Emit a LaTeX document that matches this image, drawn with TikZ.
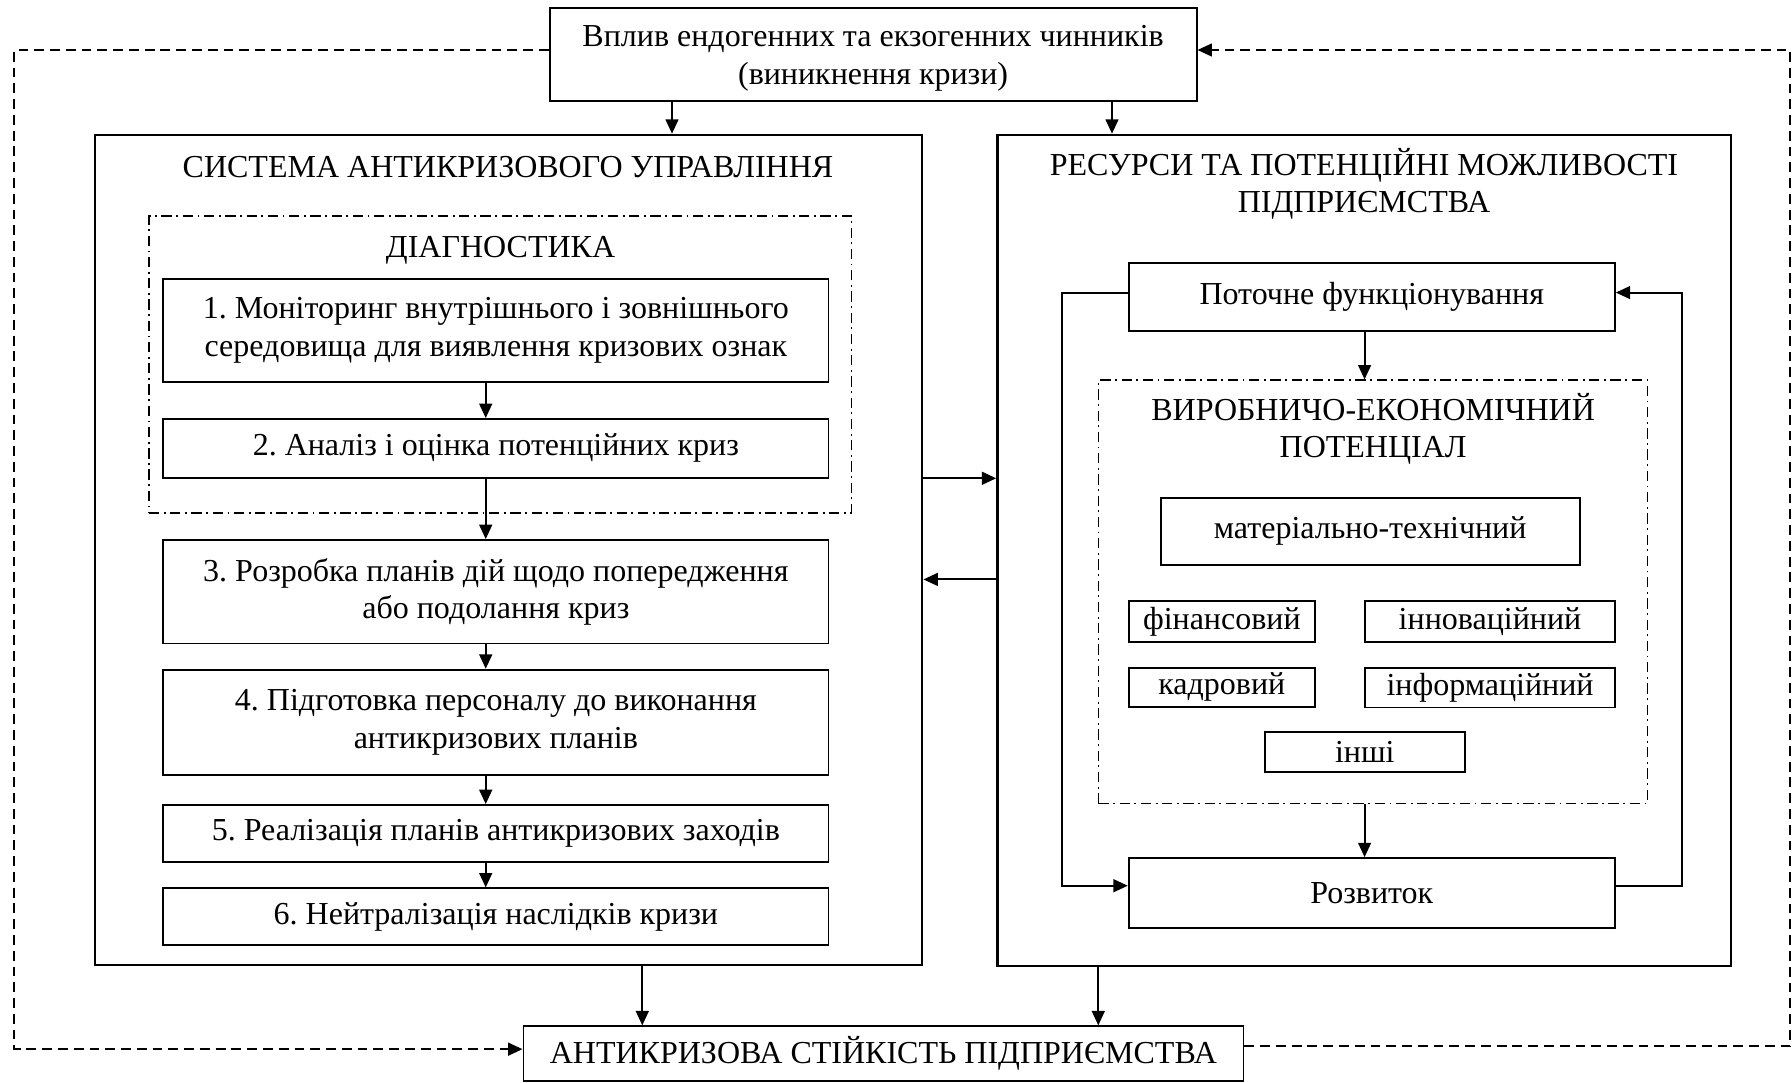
\documentclass[tikz,border=0pt]{standalone}
\usepackage{fontspec}
\setmainfont{Liberation Serif}
\usetikzlibrary{arrows.meta}
\frenchspacing
\newcommand{\myfs}{\fontsize{14pt}{16.3pt}\selectfont}
% name, x1, y1, x2, y2, text ; optional style
\newcommand{\mybox}[7][bx]{%
  \node[#1, minimum width={(#5-(#3))*0.5pt}, minimum height={(#6-(#4))*0.5pt}]
    (#2) at ({(#3+#5)/2},{(#4+#6)/2}) {#7};}
\begin{document}
\begin{tikzpicture}[x=0.5pt,y=-0.5pt,
  bx/.style={draw, line width=0.8pt, inner sep=0pt, align=center, font=\myfs},
  bigbx/.style={draw, line width=1pt, inner sep=0pt},
  dd/.style={draw, line width=0.7pt, inner sep=0pt, dash pattern=on 4.5pt off 2pt on 0.8pt off 2pt},
  ttl/.style={inner sep=0pt, align=center, font=\myfs},
  arr/.style={line width=0.9pt, -{Triangle[length=6.3pt,width=5.6pt]}},
  darr/.style={line width=0.85pt, dash pattern=on 4.3pt off 2.6pt, -{Triangle[length=6.3pt,width=5.6pt]}}
]
\useasboundingbox (0,0) rectangle (1568,947);

% top box
\mybox{top}{481}{7.3}{1047}{88.4}{}
\node[ttl] (toptxt) at (764,51) {Вплив ендогенних та екзогенних чинників\\(виникнення кризи)};

% left system
\mybox[bigbx]{sys}{83.4}{118}{807}{844.4}{}
\node[ttl] (systxt) at (444.5,146) {СИСТЕМА АНТИКРИЗОВОГО УПРАВЛІННЯ};
\mybox[dd]{diag}{130.3}{189}{745}{449}{}
\node[ttl] (diagtxt) at (438,218.7) {ДІАГНОСТИКА};
\mybox{b1}{142.8}{244}{725}{334}{1. Моніторинг внутрішнього і зовнішнього\\середовища для виявлення кризових ознак}
\mybox{b2}{142.8}{366.6}{725}{418}{2. Аналіз і оцінка потенційних криз}
\mybox{b3}{142.8}{472.5}{725}{563}{3. Розробка планів дій щодо попередження\\або подолання криз}
\mybox{b4}{142.8}{586}{725}{678}{4. Підготовка персоналу до виконання\\антикризових планів}
\mybox{b5}{142.8}{704.4}{725}{754}{5. Реалізація планів антикризових заходів}
\mybox{b6}{142.8}{777.3}{725}{826.9}{6. Нейтралізація наслідків кризи}

% right resources
\mybox[bigbx]{res}{872.7}{118}{1514.4}{845}{}
\node[ttl] (restxt) at (1193.5,161) {РЕСУРСИ ТА ПОТЕНЦІЙНІ МОЖЛИВОСТІ\\ПІДПРИЄМСТВА};
\mybox{pot}{987.6}{230.4}{1413}{289.5}{Поточне функціонування}
\mybox[dd]{vep}{961}{332.7}{1441.5}{703}{}
\node[ttl] (veptxt) at (1201.5,375) {ВИРОБНИЧО-ЕКОНОМІЧНИЙ\\ПОТЕНЦІАЛ};
\mybox{mat}{1015.5}{435.8}{1382.3}{494.1}{матеріально-технічний}
\mybox{fin}{987.6}{525.9}{1150.6}{561.7}{фінансовий}
\mybox{inn}{1194.5}{525.9}{1413}{561.7}{інноваційний}
\mybox{kad}{987.6}{584.3}{1150.6}{618.5}{кадровий}
\mybox{inf}{1194.5}{584.3}{1413}{619}{інформаційний}
\mybox{insh}{1106.9}{640.7}{1281.5}{675.7}{інші}
\mybox{rozv}{987.6}{750.8}{1413}{812}{Розвиток}

% bottom
\mybox{ak}{458}{898}{1088}{946}{АНТИКРИЗОВА СТІЙКІСТЬ ПІДПРИЄМСТВА}

% arrows
\draw[arr] (top.south -| 588,0) -- (sys.north -| 588,0);
\draw[arr] (top.south -| 973,0) -- (res.north -| 973,0);
\draw[arr] (b1.south -| 425,0) -- (b2.north -| 425,0);
\draw[arr] (b2.south -| 425,0) -- (b3.north -| 425,0);
\draw[arr] (b3.south -| 425,0) -- (b4.north -| 425,0);
\draw[arr] (b4.south -| 425,0) -- (b5.north -| 425,0);
\draw[arr] (b5.south -| 425,0) -- (b6.north -| 425,0);
\draw[arr] (sys.east |- 0,418.5) -- (res.west |- 0,418.5);
\draw[arr] (res.west |- 0,507) -- (sys.east |- 0,507);
\draw[arr] (sys.south -| 562,0) -- (ak.north -| 562,0);
\draw[arr] (res.south -| 961,0) -- (ak.north -| 961,0);
\draw[arr] (pot.south -| 1194,0) -- (vep.north -| 1194,0);
\draw[arr] (vep.south -| 1194,0) -- (rozv.north -| 1194,0);
\draw[arr] (pot.west |- 0,256) -| (929,775) -- (rozv.west |- 0,775);
\draw[arr] (rozv.east |- 0,775) -| (1472,256) -- (pot.east |- 0,256);
\draw[darr] (top.west |- 0,43.75) -| (12.6,918) -- (ak.west |- 0,918);
\draw[darr] (ak.east |- 0,915) -| (1566.5,43.75) -- (top.east |- 0,43.75);
\end{tikzpicture}
\end{document}
